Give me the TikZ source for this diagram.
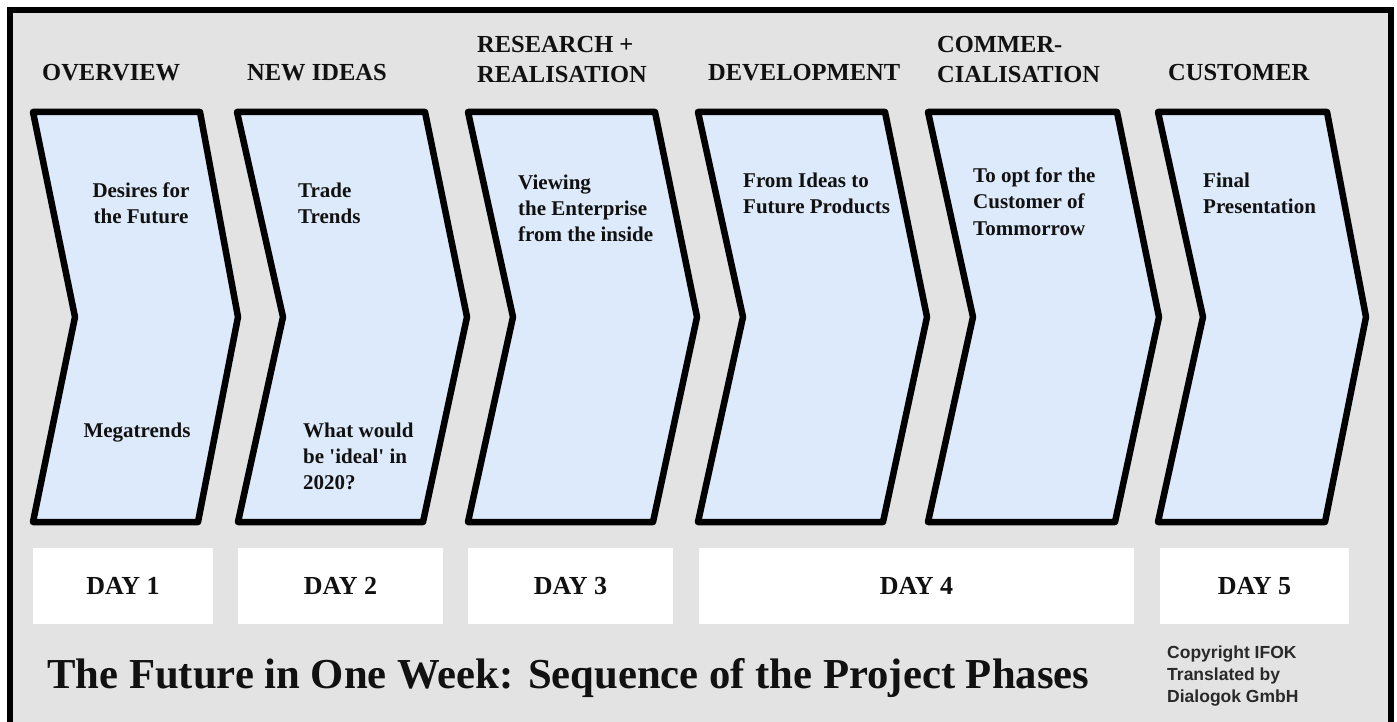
\documentclass[tikz,border=0pt]{standalone}
\usepackage{fontspec}
\setmainfont{Liberation Serif}
\newfontfamily\copyfont{Liberation Sans}
\definecolor{bggray}{HTML}{E3E3E3}
\definecolor{chevblue}{HTML}{DDEAFB}
\definecolor{inkblack}{HTML}{111111}
\begin{document}
\begin{tikzpicture}[x=1pt,y=-1pt,
  chev/.style={draw=black, line width=6.5pt, line join=round, fill=chevblue},
  frame/.style={draw=black, line width=6.5pt, fill=bggray},
  head/.style={anchor=base west, inner sep=0pt, align=left, text=inkblack, font=\fontsize{24.5}{30}\selectfont\bfseries},
  intext/.style={anchor=base west, inner sep=0pt, align=left, text=inkblack, font=\fontsize{21}{26}\selectfont\bfseries},
  daybox/.style={fill=white, inner sep=0pt, text=inkblack, font=\fontsize{26}{30}\selectfont\bfseries},
  titletext/.style={anchor=base west, inner sep=0pt, text=inkblack, font=\fontsize{42.7}{50}\selectfont\bfseries},
  copytext/.style={anchor=base west, inner sep=0pt, align=left, text=inkblack!90, font=\copyfont\bfseries\fontsize{17.5}{22}\selectfont}
  ]
\clip (0,0) rectangle (1397,722);
% outer frame
\draw[frame] (10,10) rectangle (1391,745);

% chevrons
\draw[chev] (33,112) -- (200,112) -- (238,317) -- (198,522) -- (33,522) -- (75,317) -- cycle;
\draw[chev] (237,112) -- (425,112) -- (467,317) -- (423,522) -- (238,522) -- (283,317) -- cycle;
\draw[chev] (468,112) -- (655,112) -- (697,317) -- (653,522) -- (468,522) -- (513,317) -- cycle;
\draw[chev] (698,112) -- (885,112) -- (927,317) -- (883,522) -- (698,522) -- (743,317) -- cycle;
\draw[chev] (928,112) -- (1117,112) -- (1159,317) -- (1115,522) -- (928,522) -- (973,317) -- cycle;
\draw[chev] (1158,112) -- (1327,112) -- (1366,317) -- (1325,522) -- (1158,522) -- (1203,317) -- cycle;

% headers (anchor = baseline of last line)
\node[head] (h1) at (42,81) {OVERVIEW};
\node[head] (h2) at (247,81) {NEW IDEAS};
\node[head] (h3) at (477,83) {RESEARCH +\\REALISATION};
\node[head] (h4) at (708,81) {DEVELOPMENT};
\node[head] (h5) at (937,83) {COMMER-\\CIALISATION};
\node[head] (h6) at (1168,81) {CUSTOMER};

% chevron texts (anchor = baseline of last line)
\node[intext, anchor=base, align=center] (c1a) at (141,223) {Desires for\\the Future};
\node[intext, anchor=base, align=center] (c1b) at (137,437) {Megatrends};
\node[intext] (c2a) at (298,223) {Trade\\Trends};
\node[intext] (c2b) at (303,489) {What would\\be \textquotesingle ideal\textquotesingle{} in\\2020?};
\node[intext] (c3a) at (518,241) {Viewing\\the Enterprise\\from the inside};
\node[intext] (c4a) at (743,214) {From Ideas to\\Future Products};
\node[intext] (c5a) at (973,235) {To opt for the\\Customer of\\Tommorrow};
\node[intext] (c6a) at (1203,214) {Final\\Presentation};

% day boxes
\node[daybox, minimum width=180pt, minimum height=76pt] (d1) at (123,586) {DAY 1};
\node[daybox, minimum width=205pt, minimum height=76pt] (d2) at (340.5,586) {DAY 2};
\node[daybox, minimum width=205pt, minimum height=76pt] (d3) at (570.5,586) {DAY 3};
\node[daybox, minimum width=435pt, minimum height=76pt] (d4) at (916.5,586) {DAY 4};
\node[daybox, minimum width=189pt, minimum height=76pt] (d5) at (1254.5,586) {DAY 5};

% title and copyright
\node[titletext] (title) at (47,688) {The Future in One Week: Sequence of the Project Phases};
\node[copytext] (copy) at (1167,702) {Copyright IFOK\\Translated by\\Dialogok GmbH};
\end{tikzpicture}
\end{document}
